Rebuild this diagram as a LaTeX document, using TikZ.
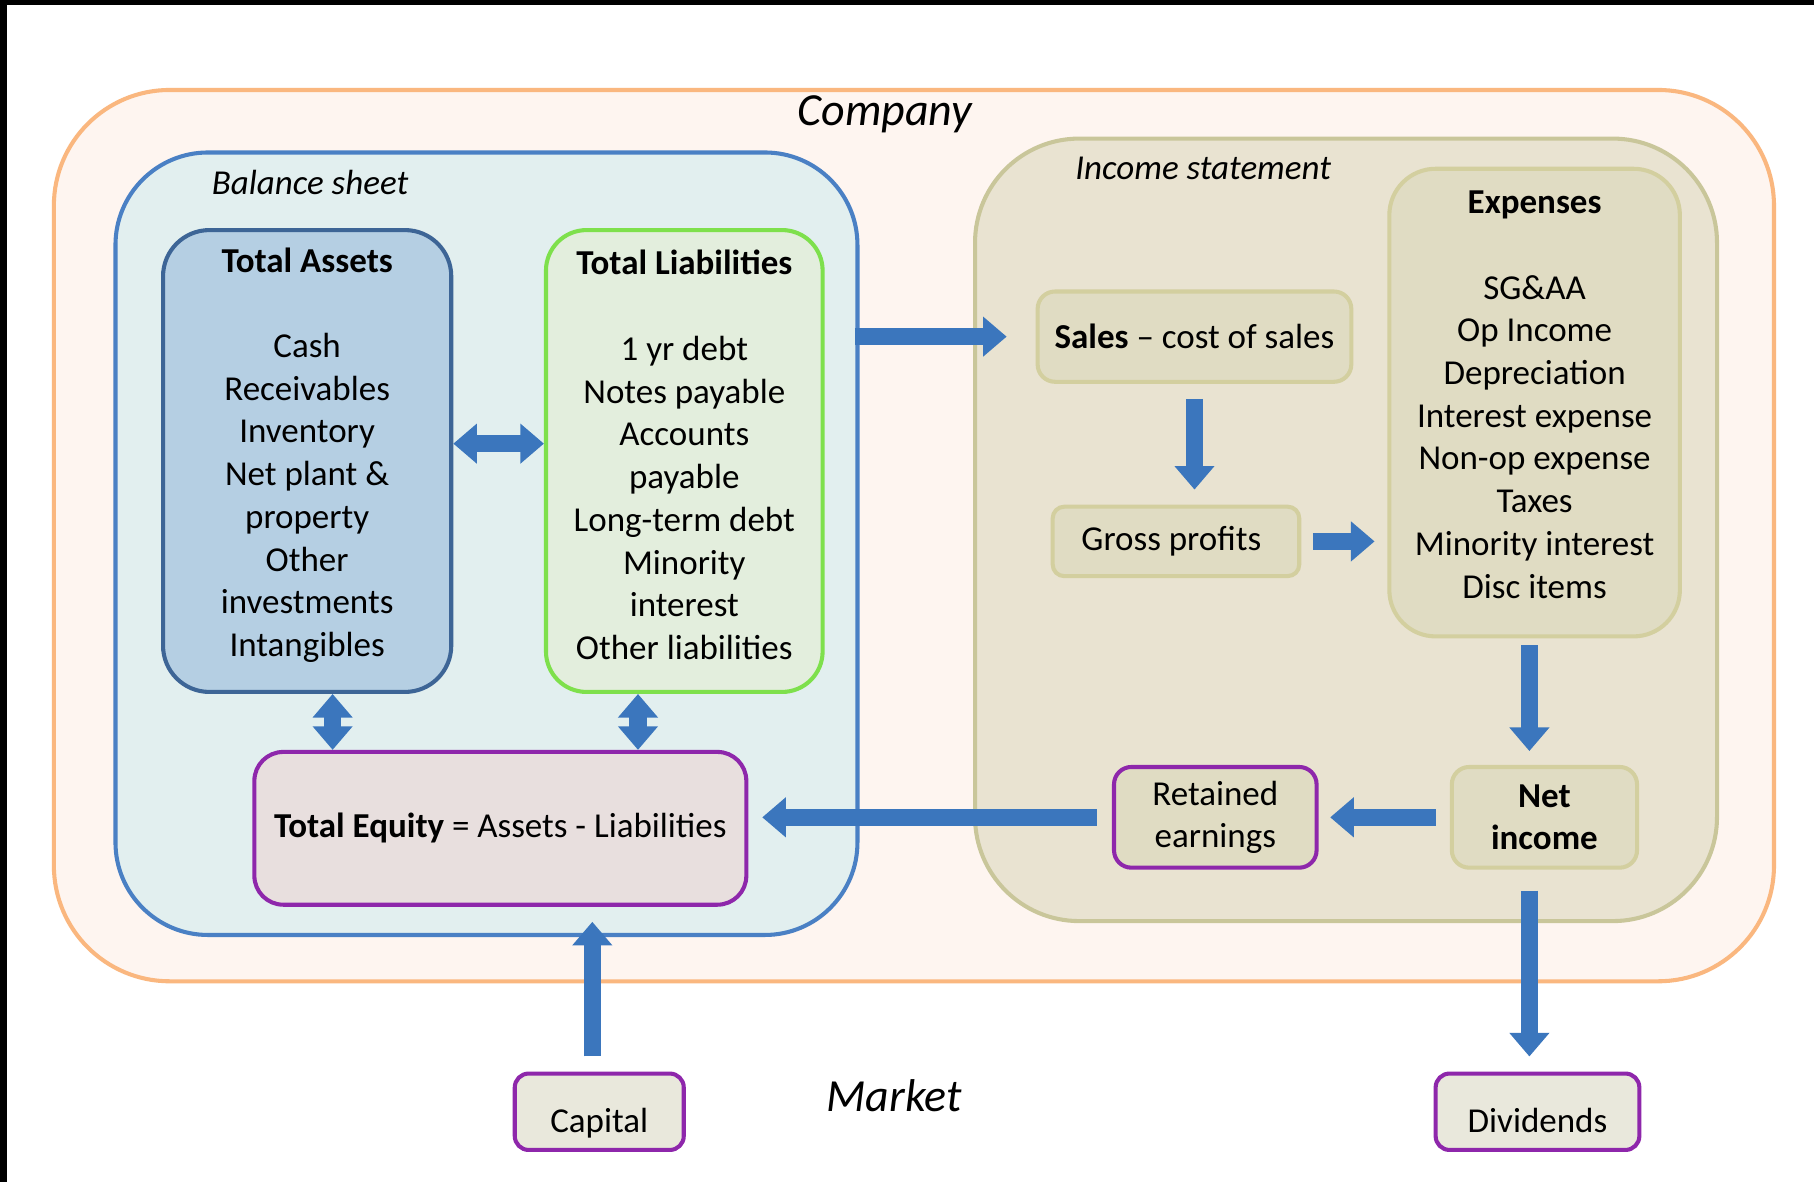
\documentclass[tikz,border=0pt]{standalone}
\usepackage{fontspec}
\setmainfont{Carlito}
\usetikzlibrary{arrows.meta}

\definecolor{compfill}{HTML}{FEF5F0}
\definecolor{compline}{HTML}{FAB77F}
\definecolor{bsfill}{HTML}{E2EFEF}
\definecolor{bsline}{HTML}{4A80C4}
\definecolor{tafill}{HTML}{B5CFE3}
\definecolor{taline}{HTML}{3D6596}
\definecolor{tlfill}{HTML}{E3EEDD}
\definecolor{tlline}{HTML}{7EE04C}
\definecolor{isfill}{HTML}{E9E3D1}
\definecolor{isline}{HTML}{C9C69A}
\definecolor{itemfill}{HTML}{E0DCC3}
\definecolor{itemline}{HTML}{D3CF9F}
\definecolor{eqfill}{HTML}{E8DFDE}
\definecolor{purpline}{HTML}{8E27AB}
\definecolor{mktfill}{HTML}{E9E8DC}
\definecolor{flowblue}{HTML}{3B76BD}

\tikzset{
  every node/.append style={font=\fontsize{8.6}{10.5}\selectfont},
  box/.style={draw, line width=1pt, align=center, inner sep=0pt},
  label/.style={font=\fontsize{8.6}{10.5}\selectfont\itshape},
  biglabel/.style={font=\fontsize{11.3}{13.5}\selectfont\itshape},
  market/.style={box, draw=purpline, fill=mktfill, rounded corners=0.12cm,
    minimum height=0.66cm, text height=10pt, text depth=0pt},
  flow/.style={draw=flowblue, line width=4.2pt, -{Triangle[width=9.5pt,length=5.8pt]}},
  biflow/.style={draw=flowblue, line width=4.2pt,
    {Triangle[width=9.5pt,length=5.8pt]}-{Triangle[width=9.5pt,length=5.8pt]}},
}

\begin{document}
\begin{tikzpicture}[x=0.01cm, y=-0.01cm]
  \useasboundingbox (0,0) rectangle (1568,1022);
  \fill[white] (0,0) rectangle (1568,1022);
  \fill[black] (0,0) rectangle (1568,4.5);
  \fill[black] (0,0) rectangle (6,1022);

  % containers
  \node[box, draw=compline, fill=compfill, rounded corners=1cm,
        minimum width=14.86cm, minimum height=7.7cm] (company) at (790,463) {};
  \node[box, draw=bsline, fill=bsfill, rounded corners=0.8cm,
        minimum width=6.41cm, minimum height=6.76cm] (bs) at (420.5,470) {};
  \node[box, draw=isline, fill=isfill, rounded corners=0.9cm,
        minimum width=6.41cm, minimum height=6.76cm] (is) at (1163.5,458) {};

  \node[biglabel] (company-lbl) at (765,99) {Company};
  \node[label] (bs-lbl) at (268,158) {Balance sheet};
  \node[label] (is-lbl) at (1040,146) {Income statement};
  \node[biglabel] (market-lbl) at (773,947) {Market};

  % balance sheet
  \node[box, draw=taline, fill=tafill, rounded corners=0.4cm, text depth=4.4pt,
        minimum width=2.49cm, minimum height=3.99cm] (assets) at (265.5,398.5)
    {\textbf{Total Assets}\\[10.5pt]Cash\\Receivables\\Inventory\\Net plant \&\\property\\Other\\investments\\Intangibles};
  \node[box, draw=tlline, fill=tlfill, rounded corners=0.35cm, text depth=3pt,
        minimum width=2.39cm, minimum height=3.99cm] (liabs) at (591.5,398.5)
    {\textbf{Total Liabilities}\\[10.5pt]1 yr debt\\Notes payable\\Accounts\\payable\\Long-term debt\\Minority\\interest\\Other liabilities};
  \node[box, draw=purpline, fill=eqfill, rounded corners=0.25cm,
        minimum width=4.25cm, minimum height=1.32cm] (equity) at (432.5,716)
    {\textbf{Total Equity} = Assets - Liabilities};

  % income statement
  \node[box, draw=itemline, fill=itemfill, rounded corners=0.15cm,
        minimum width=2.71cm, minimum height=0.78cm] (sales) at (1032.5,291)
    {\textbf{Sales} -- cost of sales};
  \node[box, draw=itemline, fill=itemfill, rounded corners=0.1cm,
        minimum width=2.13cm, minimum height=0.6cm] (gross) at (1016.5,468)
    {Gross profits\hspace{0.08cm}};
  \node[box, draw=itemline, fill=itemfill, rounded corners=0.4cm, text depth=4pt,
        minimum width=2.51cm, minimum height=4.04cm] (expenses) at (1326.5,348)
    {\textbf{Expenses}\\[10.5pt]SG\&AA\\Op Income\\Depreciation\\Interest expense\\Non-op expense\\Taxes\\Minority interest\\Disc items};
  \node[box, draw=itemline, fill=itemfill, rounded corners=0.15cm,
        minimum width=1.6cm, minimum height=0.87cm] (net) at (1335,706.5)
    {\textbf{Net}\\\textbf{income}};
  \node[box, draw=purpline, fill=itemfill, rounded corners=0.15cm,
        minimum width=1.75cm, minimum height=0.87cm] (retained) at (1050.5,706.5)
    {Retained\\earnings};

  % market
  \node[market, minimum width=1.46cm] (capital) at (518,961) {Capital};
  \node[market, minimum width=1.76cm] (dividends) at (1329,961) {Dividends};

  % flows
  \draw[biflow] ([yshift=0.15cm]assets.east) -- ([yshift=0.15cm]liabs.west);
  \draw[biflow] ([xshift=0.22cm]assets.south) -- ([xshift=0.22cm]assets.south |- equity.north);
  \draw[biflow] ([xshift=-0.4cm]liabs.south) -- ([xshift=-0.4cm]liabs.south |- equity.north);
  \draw[flow, shorten <=-0.04cm, shorten >=0.25cm] (bs.east |- sales.west) -- (sales.west);
  \draw[flow, shorten <=0.13cm, shorten >=0.13cm] (sales.south) -- (sales.south |- gross.north);
  \draw[flow, shorten <=0.1cm, shorten >=0.11cm] (gross.east) -- (gross.east -| expenses.west);
  \draw[flow, shorten <=0.06cm, shorten >=0.12cm] ([xshift=-0.13cm]net.north |- expenses.south) -- ([xshift=-0.13cm]net.north);
  \draw[flow, shorten <=0.12cm, shorten >=0.1cm] (net.west) -- (net.west -| retained.east);
  \draw[flow, shorten <=0.13cm, shorten >=0.12cm] (retained.west) -- (retained.west -| equity.east);
  \draw[flow, shorten <=0.18cm, shorten >=0.13cm] ([xshift=-0.13cm]net.south) -- ([xshift=-0.13cm]net.south |- dividends.north);
  \draw[flow, shorten <=0.13cm, shorten >=0.13cm] ([xshift=-0.06cm]capital.north) -- ([xshift=-0.06cm]capital.north |- equity.south);
\end{tikzpicture}
\end{document}
